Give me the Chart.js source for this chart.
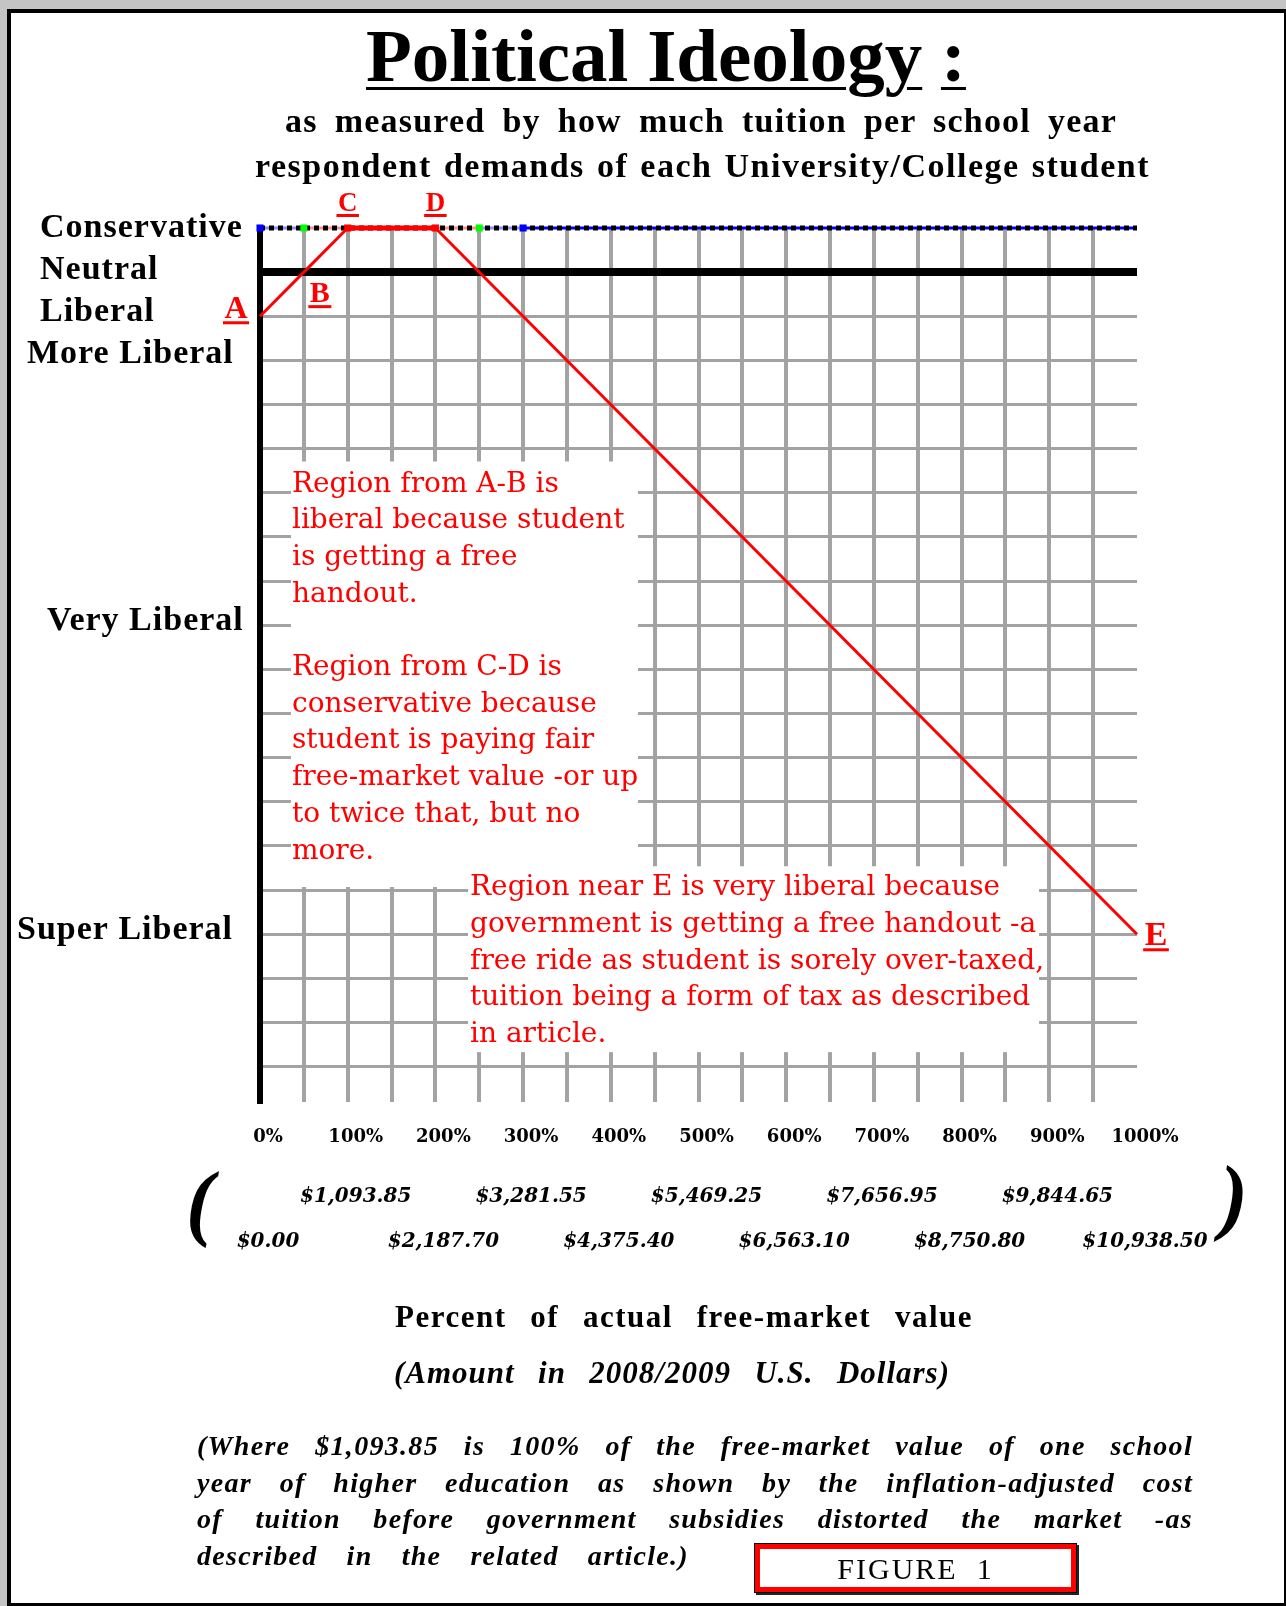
<!DOCTYPE html>
<html>
<head>
<meta charset="utf-8">
<title>Political Ideology</title>
<script src="https://cdn.jsdelivr.net/npm/chart.js@4.4.1/dist/chart.umd.min.js"></script>
<style>
  html, body { margin: 0; padding: 0; }
  body { width: 1286px; height: 1606px; background: #c4c4c4; position: relative; overflow: hidden; }
  #frame {
    position: absolute; left: 7px; top: 9px; width: 1279px; height: 1597px; box-sizing: border-box;
    background: #fff; border-left: 4px solid #000; border-top: 4px solid #000;
    border-right: 2px solid #000; border-bottom: 3px solid #000;
  }
  #chart { position: absolute; left: 0; top: 0; }
  .txt { position: absolute; line-height: 1; color: #000; font-family: 'Liberation Serif', serif; }
  .just { text-align: justify; text-align-last: justify; }
  #title { left: 366px; top: 18px; font-size: 75px; font-weight: bold; white-space: nowrap; }
  #title u { text-decoration-thickness: 3px; text-underline-offset: 6px; }
  #sub1 { left: 285px; top: 104px; width: 832px; font-size: 34px; font-weight: bold; letter-spacing: 1.2px; }
  #sub2 { left: 255px; top: 149px; width: 895px; font-size: 34px; font-weight: bold; letter-spacing: 1.5px; }
  #xt1 { left: 395px; top: 1301px; width: 578px; font-size: 31px; font-weight: bold; letter-spacing: 1.5px; }
  #xt2 { left: 394px; top: 1357px; width: 556px; font-size: 31px; font-weight: bold; font-style: italic; letter-spacing: 1px; }
  .note { left: 197px; width: 996px; font-size: 28px; font-weight: bold; font-style: italic; letter-spacing: 1.3px; }
  .paren { font-size: 84px; font-weight: bold; font-style: italic; }
  #figbox {
    position: absolute; left: 755px; top: 1544px; width: 321px; height: 48px; box-sizing: border-box;
    border: 5px solid #ff0000; background: #fff; box-shadow: 0 0 0 1px #000, 2px 2px 0 1px #222;
  }
  #figtxt { left: 755px; top: 1554px; width: 321px; text-align: center; font-size: 30px; letter-spacing: 2px; white-space: nowrap; }
</style>
</head>
<body>
<div id="frame"></div>
<canvas id="chart" width="1286" height="1606"></canvas>

<div class="txt" id="title"><u>Political Ideology</u> <u>:</u></div>
<div class="txt just" id="sub1">as measured by how much tuition per school year</div>
<div class="txt just" id="sub2">respondent demands of each University/College student</div>

<div class="txt paren" style="left:186px; top:1160px;">(</div>
<div class="txt paren" style="left:1220px; top:1154px;">)</div>

<div class="txt just" id="xt1">Percent of actual free-market value</div>
<div class="txt just" id="xt2">(Amount in 2008/2009 U.S. Dollars)</div>

<div class="txt just note" style="top:1432px;">(Where $1,093.85 is 100% of the free-market value of one school</div>
<div class="txt just note" style="top:1469px;">year of higher education as shown by the inflation-adjusted cost</div>
<div class="txt just note" style="top:1505px;">of tuition before government subsidies distorted the market -as</div>
<div class="txt just note" style="top:1542px; width:492px;">described in the related article.)</div>

<div id="figbox"></div>
<div class="txt" id="figtxt">FIGURE&nbsp;&nbsp;1</div>

<script>
// x axis: percent of free-market value, with the matching dollar amounts
const percentValues = [0, 100, 200, 300, 400, 500, 600, 700, 800, 900, 1000];
const percentLabels = ['0%', '100%', '200%', '300%', '400%', '500%', '600%', '700%', '800%', '900%', '1000%'];
const dollarLabels = ['$0.00', '$1,093.85', '$2,187.70', '$3,281.55', '$4,375.40', '$5,469.25',
                      '$6,563.10', '$7,656.95', '$8,750.80', '$9,844.65', '$10,938.50'];

// y axis: ideology levels (0 = conservative, going down = more liberal)
const ideologyLevels = [0, -1, -2, -3, -9, -16];
const ideologyNames = ['Conservative', 'Neutral', 'Liberal', 'More Liberal', 'Very Liberal', 'Super Liberal'];

// the ideology curve A-B-C-D-E
const curvePercent = [0, 50, 100, 200, 1000];
const curveLevel = [-2, -1, 0, 0, -16];
const curveNames = ['A', 'B', 'C', 'D', 'E'];

// marks along the conservative line
const thresholdPercent = [0, 50, 100, 200, 250, 300, 1000];
const thresholdLevel = [0, 0, 0, 0, 0, 0, 0];

// notes written on the grid
const notesLeft = ['Region from A-B is', 'liberal because student', 'is getting a free', 'handout.', '',
                   'Region from C-D is', 'conservative because', 'student is paying fair',
                   'free-market value -or up', 'to twice that, but no', 'more.'];
const notesRight = ['Region near E is very liberal because', 'government is getting a free handout -a',
                    'free ride as student is sorely over-taxed,', 'tuition being a form of tax as described',
                    'in article.'];

function toPoints(xs, ys) {
    return xs.map(function(v, i) { return {x: v, y: ys[i]}; });
}

const GRID_GRAY = '#a3a3a3';

const decorPlugin = {
    id: 'decor',
    beforeDatasetsDraw(chart) {
        // white boxes behind the notes hide the grid
        const ctx = chart.ctx, x = chart.scales.x, y = chart.scales.y;
        const boxes = [
            {x0: 35.3, x1: 431, y0: -5.29, y1: -14.93},
            {x0: 237.2, x1: 888.3, y0: -14.46, y1: -18.67}
        ];
        ctx.save();
        ctx.fillStyle = '#ffffff';
        boxes.forEach(function(b) {
            const l = x.getPixelForValue(b.x0), r = x.getPixelForValue(b.x1);
            const t = y.getPixelForValue(b.y0), btm = y.getPixelForValue(b.y1);
            ctx.fillRect(l, t, r - l, btm - t);
        });
        ctx.restore();
    },
    afterDatasetsDraw(chart) {
        const ctx = chart.ctx, x = chart.scales.x, y = chart.scales.y;
        ctx.save();
        ctx.fillStyle = '#ff0000';
        ctx.textBaseline = 'alphabetic';
        ctx.textAlign = 'left';
        ctx.font = '28px "DejaVu Serif"';
        const lineGap = 36.7;
        let left = x.getPixelForValue(35.3) + 1;
        let top = y.getPixelForValue(-5.29) + 30;
        notesLeft.forEach(function(s, i) { ctx.fillText(s, left, top + i * lineGap); });
        left = x.getPixelForValue(237.2) + 2;
        top = y.getPixelForValue(-14.46) + 29;
        notesRight.forEach(function(s, i) { ctx.fillText(s, left, top + i * lineGap); });

        // point letters, underlined
        const letterStyle = {
            A: {dx: -24, dy: 2, size: 32},
            B: {dx: 16, dy: 30, size: 30},
            C: {dx: 0, dy: -17, size: 27},
            D: {dx: 0, dy: -17, size: 27},
            E: {dx: 19, dy: 11, size: 34}
        };
        ctx.textAlign = 'center';
        curveNames.forEach(function(name, i) {
            const st = letterStyle[name];
            const px = x.getPixelForValue(curvePercent[i]) + st.dx;
            const py = y.getPixelForValue(curveLevel[i]) + st.dy;
            ctx.font = 'bold ' + st.size + 'px "Liberation Serif"';
            ctx.fillText(name, px, py);
            const w = ctx.measureText(name).width + 3;
            ctx.fillRect(px - w / 2, py + 3, w, 3);
        });
        ctx.restore();
    },
    afterDraw(chart) {
        // ideology names on the left of the axis
        const ctx = chart.ctx, y = chart.scales.y;
        const lefts = [40, 40, 40, 27, 47, 17];
        const lift = [1, 3, 5, 7, 5, 5];
        ctx.save();
        ctx.fillStyle = '#000';
        ctx.font = 'bold 34px "Liberation Serif"';
        ctx.textAlign = 'left';
        ctx.textBaseline = 'alphabetic';
        if ('letterSpacing' in ctx) ctx.letterSpacing = '1px';
        ideologyNames.forEach(function(name, i) {
            ctx.fillText(name, lefts[i], y.getPixelForValue(ideologyLevels[i]) + 10 - lift[i]);
        });
        ctx.restore();
    }
};

function percentTick(value) {
    const i = percentValues.indexOf(value);
    return i >= 0 ? percentLabels[i] : '';
}
function dollarTick(parity) {
    return function(value) {
        const i = percentValues.indexOf(value);
        return (i >= 0 && i % 2 === parity) ? dollarLabels[i] : '';
    };
}

const segColors = ['#8c8cff', '#ff8c8c', '#ff0000', '#ff8c8c', '#8c8cff', '#0000ff'];
const markerColors = ['#0000ff', '#00ff00', '#ff0000', '#ff0000', '#00ff00', '#0000ff', 'rgba(0,0,0,0)'];

const ctx = document.getElementById('chart').getContext('2d');
const myChart = new Chart(ctx, {
    type: 'line',
    data: {
        datasets: [
            {
                // markers on the conservative line
                data: toPoints(thresholdPercent, thresholdLevel),
                showLine: false,
                pointStyle: 'rect',
                pointRadius: 5,
                pointBorderWidth: 0,
                pointBackgroundColor: markerColors,
                clip: false,
                order: 1
            },
            {
                // ideology curve
                data: toPoints(curvePercent, curveLevel),
                borderColor: '#ff0000',
                borderWidth: 3,
                pointRadius: 0,
                segment: {
                    borderWidth: function(c) { return (c.p0.parsed.y === 0 && c.p1.parsed.y === 0) ? 5 : 3; }
                },
                clip: false,
                order: 2
            },
            {
                // dotted conservative line
                data: toPoints([thresholdPercent[0], thresholdPercent[thresholdPercent.length - 1]], [0, 0]),
                borderColor: '#000',
                borderWidth: 5,
                borderDash: [5, 4],
                pointRadius: 0,
                clip: false,
                order: 3
            },
            {
                // coloured band under the dots
                data: toPoints(thresholdPercent, thresholdLevel),
                borderColor: '#0000ff',
                borderWidth: 3,
                pointRadius: 0,
                segment: {
                    borderColor: function(c) { return segColors[c.p0DataIndex]; }
                },
                clip: false,
                order: 4
            }
        ]
    },
    options: {
        responsive: false,
        devicePixelRatio: 1,
        animation: false,
        layout: { padding: { left: 260, top: 228, right: 149, bottom: 344 } },
        plugins: { legend: { display: false }, tooltip: { enabled: false } },
        scales: {
            x: {
                type: 'linear', position: 'bottom', min: 0, max: 1000, weight: 0,
                ticks: {
                    stepSize: 50, autoSkip: false, maxRotation: 0, padding: 25, labelOffset: 8,
                    color: '#000', font: { family: 'DejaVu Serif', weight: 'bold', size: 18 },
                    callback: percentTick
                },
                grid: {
                    drawTicks: false, z: -2, lineWidth: 4,
                    color: function(c) {
                        const v = c.tick ? c.tick.value : 0;
                        return (v <= 0 || v >= 1000) ? 'rgba(0,0,0,0)' : GRID_GRAY;
                    }
                },
                border: { display: false },
                afterFit: function(s) { s.height = 60; }
            },
            xUp: {
                type: 'linear', position: 'bottom', min: 0, max: 1000, weight: 1,
                ticks: {
                    stepSize: 100, autoSkip: false, maxRotation: 0, padding: 15, labelOffset: 8,
                    color: '#000', font: { family: 'DejaVu Serif', weight: 'bold', style: 'italic', size: 20 },
                    callback: dollarTick(1)
                },
                grid: { display: false },
                border: { display: false },
                afterFit: function(s) { s.height = 50; }
            },
            xLow: {
                type: 'linear', position: 'bottom', min: 0, max: 1000, weight: 2,
                ticks: {
                    stepSize: 100, autoSkip: false, maxRotation: 0, padding: 10, labelOffset: 8,
                    color: '#000', font: { family: 'DejaVu Serif', weight: 'bold', style: 'italic', size: 20 },
                    callback: dollarTick(0)
                },
                grid: { display: false },
                border: { display: false },
                afterFit: function(s) { s.height = 50; }
            },
            y: {
                type: 'linear', min: -19.8, max: 0,
                ticks: { stepSize: 1, display: false },
                grid: {
                    drawTicks: false, z: -1,
                    color: function(c) {
                        const v = c.tick ? c.tick.value : 0;
                        if (v === 0 || v < -19.5) return 'rgba(0,0,0,0)';
                        return v === -1 ? '#000' : GRID_GRAY;
                    },
                    lineWidth: function(c) { return (c.tick && c.tick.value === -1) ? 8 : 3; }
                },
                border: { display: true, color: '#000', width: 6 },
                afterFit: function(s) { s.width = 0; }
            }
        }
    },
    plugins: [decorPlugin]
});
</script>
</body>
</html>
